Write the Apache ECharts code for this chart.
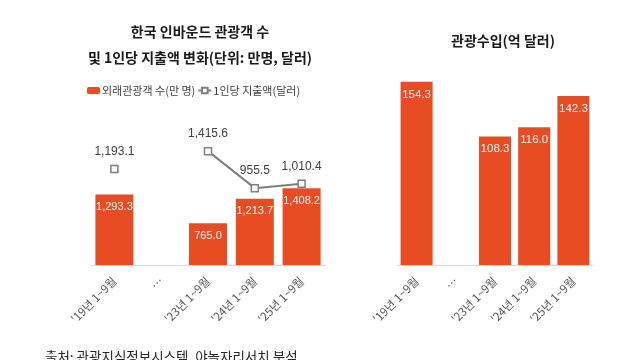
<!DOCTYPE html>
<html><head><meta charset="utf-8">
<script src="https://cdn.jsdelivr.net/npm/echarts@6/dist/echarts.min.js"></script>
<style>html,body{margin:0;padding:0;background:#fff}#c{width:640px;height:360px}</style>
</head><body><div id="c"></div>
<script>
const categories = ["'19년 1~9월", "…", "'23년 1~9월", "'24년 1~9월", "'25년 1~9월"];
const visitors = [1293.3, null, 765.0, 1213.7, 1408.2];
const spending = [1193.1, null, 1415.6, 955.5, 1010.4];
const revenue = [154.3, null, 108.3, 116.0, 142.3];
const leftTitle = "한국 인바운드 관광객 수\n및 1인당 지출액 변화(단위: 만명, 달러)";
const rightTitle = "관광수입(억 달러)";
const sourceText = "출처: 관광지식정보시스템, 야놀자리서치 분석";

const FONT = "'Liberation Sans', 'Noto Sans CJK KR', sans-serif";
const KFONT = "'Noto Sans CJK KR', sans-serif";
const BAR = '#E84C22';
const fmt = v => v.toLocaleString('en-US', {minimumFractionDigits: 1, maximumFractionDigits: 1});

const chart = echarts.init(document.getElementById('c'), null, {renderer: 'canvas'});
const catAxis = (gi) => ({
  type: 'category', gridIndex: gi, data: categories,
  axisLine: {lineStyle: {color: '#d9d9d9'}}, axisTick: {show: false},
  axisLabel: {rotate: 45, color: '#595959', fontSize: 11.5, fontFamily: KFONT, margin: 14, interval: 0}
});
chart.setOption({
  animation: false,
  textStyle: {fontFamily: FONT},
  title: [
    {text: leftTitle, left: 195, top: 14, textAlign: 'center',
     textStyle: {fontFamily: KFONT, fontSize: 14, fontWeight: 'bold', color: '#1a1a1a', lineHeight: 26}},
    {text: rightTitle, left: 498, top: 29, textAlign: 'center',
     textStyle: {fontFamily: KFONT, fontSize: 14, fontWeight: 'bold', color: '#1a1a1a'}}
  ],
  legend: {
    left: 82, top: 80, itemGap: 2, itemWidth: 13, itemHeight: 7,
    textStyle: {fontFamily: KFONT, fontSize: 11, color: '#404040', padding: [0, 0, 0, -3]},
    data: ['외래관광객 수(만 명)', '1인당 지출액(달러)']
  },
  grid: [
    {left: 91, width: 234, top: 145, bottom: 95},
    {left: 397, width: 196, top: 75, bottom: 95}
  ],
  xAxis: [catAxis(0), catAxis(1)],
  yAxis: [
    {type: 'value', gridIndex: 0, min: 0, max: 2200, show: false},
    {type: 'value', gridIndex: 0, min: 0, max: 1492, show: false},
    {type: 'value', gridIndex: 1, min: 0, max: 160, show: false}
  ],
  graphic: [
    {type: 'text', left: 45, top: 350, style: {text: sourceText, font: '13.5px ' + KFONT, fill: '#262626'}}
  ],
  series: [
    {name: '외래관광객 수(만 명)', type: 'bar', xAxisIndex: 0, yAxisIndex: 0, data: visitors,
     barWidth: 38, itemStyle: {color: BAR},
     label: {show: true, position: 'insideTop', offset: [0, 2], color: '#fff', fontSize: 11, fontFamily: FONT,
       formatter: p => fmt(p.value)}},
    {name: '1인당 지출액(달러)', type: 'line', xAxisIndex: 0, yAxisIndex: 1, data: spending,
     connectNulls: false, symbol: 'rect', symbolSize: 7, showSymbol: true,
     lineStyle: {color: '#7f7f7f', width: 2}, itemStyle: {color: '#fff', borderColor: '#7f7f7f', borderWidth: 1.5},
     label: {show: true, position: 'top', distance: 7, color: '#404040', fontSize: 12, fontFamily: FONT,
       formatter: p => fmt(p.value)}},
    {name: 'rev', type: 'bar', xAxisIndex: 1, yAxisIndex: 2, data: revenue,
     barWidth: 32, itemStyle: {color: BAR},
     label: {show: true, position: 'insideTop', offset: [0, 2], color: '#fff', fontSize: 11.5, fontFamily: FONT,
       formatter: p => fmt(p.value)}}
  ]
});
</script></body></html>
